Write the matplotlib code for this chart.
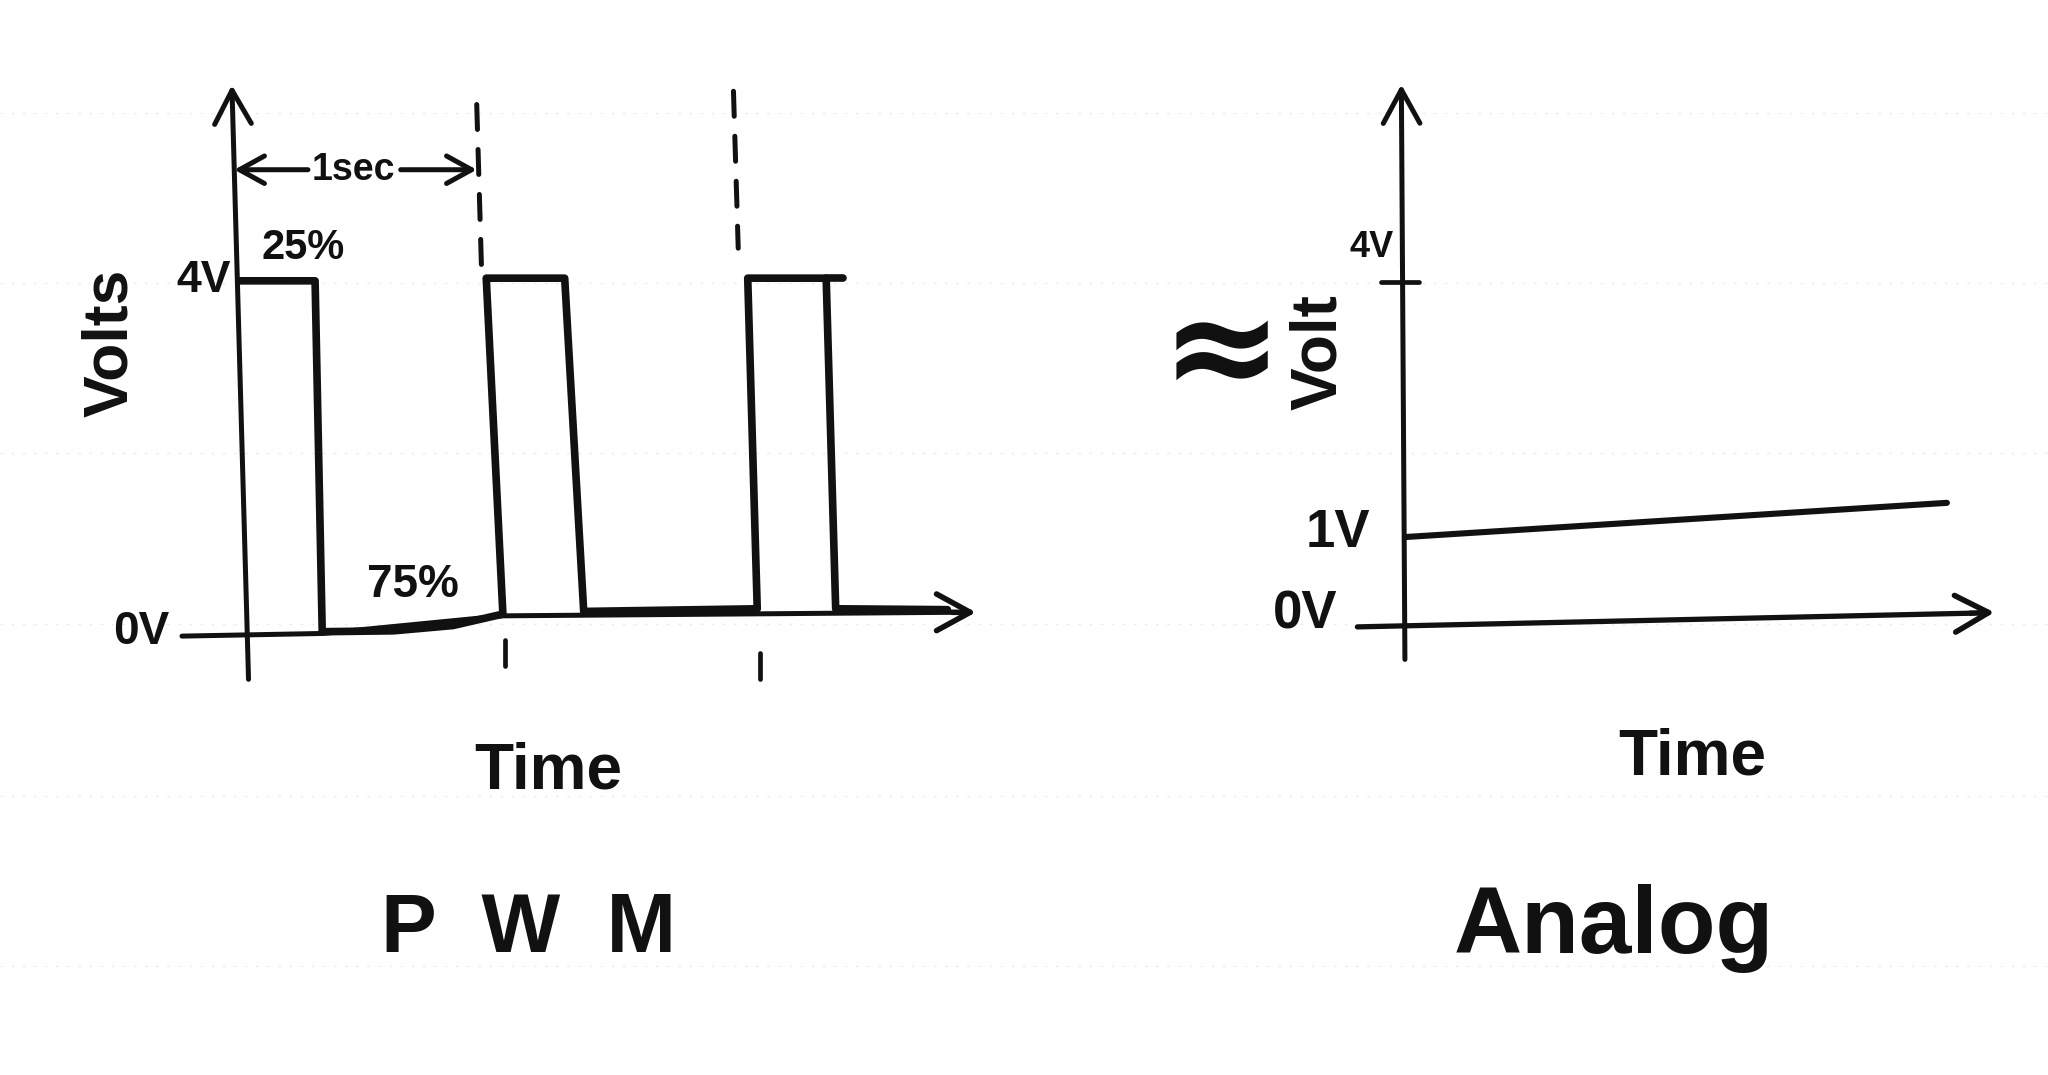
import matplotlib
matplotlib.use("Agg")
import matplotlib.pyplot as plt
from matplotlib.lines import Line2D

# ---------------- data ----------------
# PWM panel: time in seconds, voltage in volts
pwm_t = [0.00, 0.32, 0.35, 0.65, 0.90, 1.11, 1.04, 1.37, 1.45, 2.18, 2.14, 2.47, 2.51, 2.98]
pwm_v = [4.00, 4.00, 0.02, 0.03, 0.09, 0.22, 4.03, 4.03, 0.25, 0.28, 4.03, 4.03, 0.28, 0.27]
pwm_top_ext_t = [2.47, 2.54]          # overshoot of third pulse top
pwm_top_ext_v = [4.03, 4.03]
period_marks_t = [1.00, 2.08]         # dashed period markers
period_top_v = [6.00, 6.15]
period_bot_v = [4.15, 4.37]
tick_marks_t = [1.12, 2.19]           # small marks below the time axis
tick_top_v = [-0.07, -0.22]
tick_bot_v = [-0.37, -0.52]
pwm_labels = ["4V", "0V", "1sec"]
pwm_duty = [25, 75]

# Analog panel
analog_t = [0.02, 2.30]
analog_v = [1.02, 1.42]
analog_labels = ["4V", "1V", "0V"]

# ---------------- figure ----------------
W, H = 2048, 1075
S = W / 1568.0
fig = plt.figure(figsize=(W / 100, H / 100), dpi=100)
fig.patch.set_facecolor("white")

# faint notebook rules
for yy in [113, 283, 453, 624, 796, 966]:
    fig.add_artist(Line2D([0, 1], [1 - yy / H, 1 - yy / H], transform=fig.transFigure,
                          color="#ececec", lw=1.0, ls=(0, (2, 6)), zorder=0))

FONT = ["Liberation Sans Narrow", "Liberation Sans", "DejaVu Sans"]
INK = "#111111"


def panel(ox_d, oy_d, sx_d, sy_d):
    ox, oy = ox_d * S, oy_d * S
    sx, sy = sx_d * S, sy_d * S
    ax = fig.add_axes([0, 0, 1, 1])
    ax.set_xlim(-ox / sx, (W - ox) / sx)
    ax.set_ylim(-(H - oy) / sy, oy / sy)
    ax.axis("off")
    ax.patch.set_alpha(0)
    return ax


def arrow(ax, tail, tip, lw=3.6, style="->", hl=1.1, hw=0.6, ms=22):
    ax.annotate("", xy=tip, xytext=tail,
                arrowprops=dict(arrowstyle=f"{style},head_length={hl},head_width={hw}",
                                lw=lw, color=INK, mutation_scale=ms,
                                shrinkA=0, shrinkB=0, capstyle="round",
                                joinstyle="round"))


def txt(ax, x, y, s, size, rot=0, weight="bold", **kw):
    ax.text(x, y, s, fontsize=size, rotation=rot, ha="center", va="center",
            family=FONT, fontweight=weight, color=INK, **kw)


# ---------------- PWM panel ----------------
axL = panel(183, 485, 182, 67.5)
# axes
arrow(axL, (0.04, -0.52), (-0.03, 6.22))
axL.plot([-0.24, 0.35, 1.11, 3.0], [-0.03, 0.0, 0.20, 0.24], color=INK, lw=3.6,
         solid_capstyle="round")
arrow(axL, (3.0, 0.24), (3.10, 0.24), lw=4.0)
# waveform
axL.plot(pwm_t, pwm_v, color=INK, lw=5.5, solid_joinstyle="round",
         solid_capstyle="round")
axL.plot(pwm_top_ext_t, pwm_top_ext_v, color=INK, lw=5.5, solid_capstyle="round")
# period markers
for t, a, b in zip(period_marks_t, period_top_v, period_bot_v):
    axL.plot([t, t + 0.02], [a, b], color=INK, lw=3.6, ls=(0, (5, 4)),
             dash_capstyle="round")
for t, a, b in zip(tick_marks_t, tick_top_v, tick_bot_v):
    axL.plot([t, t], [a, b], color=INK, lw=3.4, solid_capstyle="round")
# 1 sec span
arrow(axL, (0.29, 5.26), (-0.02, 5.26), ms=18, hl=1.0, hw=0.55)
arrow(axL, (0.68, 5.26), (1.00, 5.26), ms=18, hl=1.0, hw=0.55)
txt(axL, 0.48, 5.26, pwm_labels[2], 27)
# labels
txt(axL, -0.15, 4.00, pwm_labels[0], 32)
txt(axL, 0.27, 4.37, f"{pwm_duty[0]}%", 30)
txt(axL, 0.73, 0.55, f"{pwm_duty[1]}%", 33)
txt(axL, -0.41, 0.02, pwm_labels[1], 33)
txt(axL, -0.54, 3.30, "Volts", 45, rot=90)
txt(axL, 1.30, -1.56, "Time", 46)
txt(axL, 1.22, -3.36, "P  W  M", 60)

# ---------------- Analog panel ----------------
axR = panel(1072, 478, 182, 65.5)
arrow(axR, (0.02, -0.41), (0.005, 6.31))
axR.plot([-0.18, 2.40], [-0.03, 0.13], color=INK, lw=3.8, solid_capstyle="round")
arrow(axR, (2.40, 0.13), (2.50, 0.14), lw=4.0)
axR.plot(analog_t, analog_v, color=INK, lw=4.4, solid_capstyle="round")
axR.plot([-0.08, 0.08], [4.0, 4.0], color=INK, lw=3.4, solid_capstyle="round")
txt(axR, -0.12, 4.40, analog_labels[0], 26)
txt(axR, -0.26, 1.07, analog_labels[1], 38)
txt(axR, -0.40, 0.12, analog_labels[2], 38)
txt(axR, -0.34, 3.18, "Volt", 46, rot=90)
axR.text(-0.75, 3.15, "\u2248", fontsize=105, ha="center", va="center",
         family=["DejaVu Sans"], fontweight="bold", color=INK)
txt(axR, 0.90, -3.55, "Analog", 68)
txt(axR, 1.23, -1.56, "Time", 46)

fig.savefig("out.png", dpi=100, facecolor="white")
